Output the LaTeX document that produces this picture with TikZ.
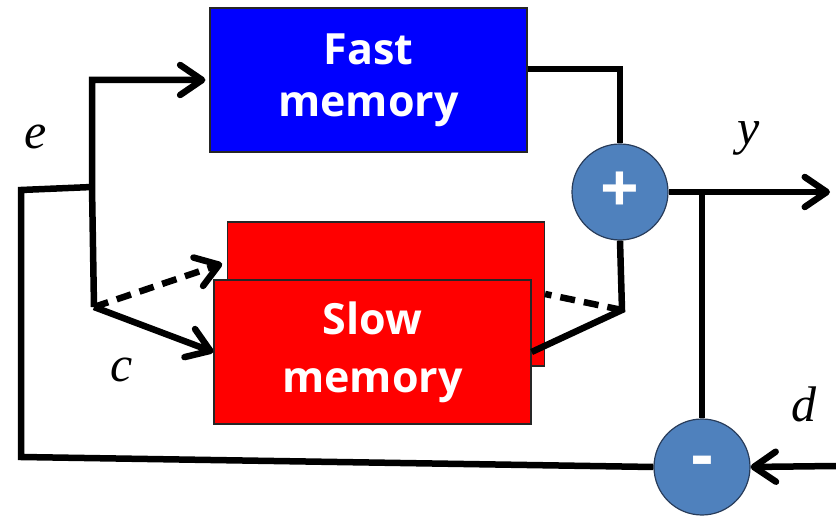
\documentclass[tikz,border=0pt]{standalone}
\usepackage{fontspec}
\usepackage{tikz}
\usetikzlibrary{arrows.meta,positioning,calc}
\setsansfont{Open Sans}
\newfontfamily\labelfont{Liberation Serif}
\definecolor{fastblue}{RGB}{0,0,255}
\definecolor{slowred}{RGB}{255,0,0}
\definecolor{sumfill}{RGB}{79,129,189}
\definecolor{sumdraw}{RGB}{40,60,90}

\begin{document}
\begin{tikzpicture}[x=1pt,y=-1pt,line width=6.5pt,
    >={Straight Barb[length=22pt,width=30pt,line cap=round,line join=round]}]
  \tikzstyle{memory}=[rectangle,draw=black!85,line width=1.2pt,minimum width=317pt,minimum height=144pt,
    text=white,align=center,font=\sffamily\bfseries\fontsize{43}{52}\selectfont]
  \tikzstyle{junction}=[circle,draw=sumdraw,line width=1.2pt,fill=sumfill,minimum size=96pt,inner sep=0pt,
    text=white,font=\sffamily\bfseries\fontsize{68}{68}\selectfont]
  \tikzstyle{sig}=[inner sep=0pt,font=\labelfont\itshape\fontsize{50}{50}\selectfont]

  \useasboundingbox (0,0) rectangle (836,521);

  % the two memories and the summing points
  \node[memory,fill=fastblue] (fast) at (368.5,80) {Fast\\memory};
  \node[memory,fill=slowred] (slowback) at (386,294) {};
  \node[memory,fill=slowred,font=\sffamily\bfseries\fontsize{43}{58}\selectfont] (slow) at (372.5,352) {Slow\\memory};
  \node[junction] (plus) at (620,192) {\raisebox{-6pt}{+}};
  \node[junction] (minus) at (702,467) {\raisebox{-5pt}{-}};

  \coordinate (join) at (92,187);
  \coordinate (split) at (94,307);
  \coordinate (fbl) at (21,457);
  \coordinate (ftl) at (21,190);
  \coordinate (sum) at (622,310);
  \coordinate (tap) at (702,192);
  \coordinate (out) at (830,192);
  \coordinate (din) at (836,466);

  % error feedback into both memories
  \draw (minus.west) -- (fbl) -- (ftl) -- (join);
  \draw[->,shorten >=4pt] (split) -- (join) |- (fast.west);
  \draw[->] (split) -- (slow.west);
  \draw[->,dash pattern=on 15pt off 9pt,shorten >=5pt] (split) -- ($(slowback.north west)!0.28!(slowback.south west)$);

  % outputs summed
  \draw ([yshift=11pt]fast.east) -| (plus.north);
  \draw (plus.south) -- (sum) -- (slow.east);
  \draw[dash pattern=on 15pt off 9pt] (sum) -- (slowback.east);
  \draw[->] (plus.east) -- (out);
  \draw (tap) -- (minus.north);
  \draw[->] (din) -- (minus.east);

  \node[sig] (e) at (36,137) {e};
  \node[sig] (y) at (749,138) {y};
  \node[sig] (c) at (122,370) {c};
  \node[sig] (d) at (804,404) {d};
\end{tikzpicture}
\end{document}
